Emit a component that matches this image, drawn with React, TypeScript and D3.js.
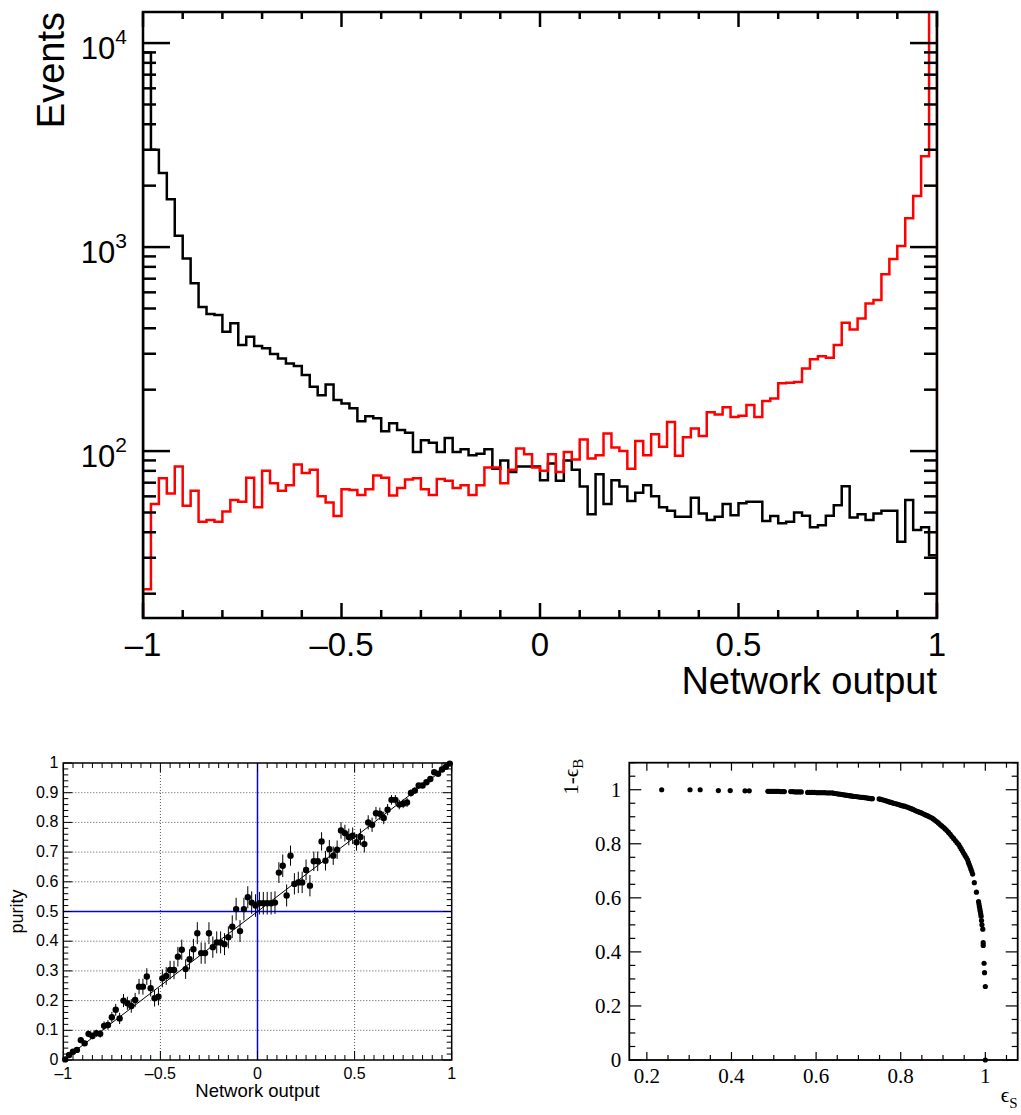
import React from 'react';
import * as d3 from 'd3';

// ---------- Top histogram (100 bins on [-1,1]) ----------
const bgCounts = [
  9000, 3000, 2310, 1714, 1135, 880, 664, 509, 470, 464,
  385, 423, 331, 363, 327, 319, 299, 284, 269, 261,
  236, 207, 188, 212, 178, 171, 162, 140, 148, 145,
  125, 137, 127, 123, 99, 113, 110, 99, 116, 99,
  102, 95.5, 97, 102, 82, 90, 79, 84, 84, 84,
  72, 87, 71.5, 90, 81, 67, 49, 77, 55, 72,
  67, 57, 62.5, 68, 60, 53, 51, 47.6, 47.6, 59,
  49.5, 46, 47.6, 55, 48.5, 55.5, 56.5, 56.5, 45.4, 48,
  44.3, 45, 50, 48.2, 42.3, 43.3, 48.2, 54.3, 67.3, 47.3,
  49, 46, 49.5, 51, 51, 35.9, 57.5, 41, 42.3, 30.9,
];
const sigCounts = [
  21, 55, 73.5, 62, 84, 54, 64, 45, 46, 45,
  50.5, 57.5, 56.5, 74, 53, 80, 69.5, 64, 68, 86,
  78, 81, 60, 56, 48, 65, 64.5, 61, 65, 76,
  74, 60.5, 66, 72.6, 73.5, 65, 61, 73, 71.5, 66,
  68, 61, 68, 83, 83, 69.5, 81, 103, 96.6, 83,
  80, 96.6, 79, 99, 91, 114, 92, 95.5, 122, 104,
  100, 82, 112, 95.5, 121, 105, 139, 94.8, 117, 129,
  118.5, 155, 151, 164, 147, 149, 168, 147, 176, 181,
  215, 216, 218, 254, 282, 292, 287, 331, 426, 395,
  447, 529, 550, 735, 875, 1012, 1383, 1778, 2790, 30000,
];
const topXTickValues = [-1, -0.5, 0, 0.5, 1];
const topXTickLabels = ['\u20131', '\u20130.5', '0', '0.5', '1'];
const topYMajors = [100, 1000, 10000];
const topYMajorExp = ['2', '3', '4'];

// ---------- Purity (100 points) ----------
const purityValues = [
  0.002, 0.017, 0.028, 0.034, 0.067, 0.056, 0.088, 0.081, 0.09, 0.088,
  0.115, 0.118, 0.144, 0.169, 0.14, 0.2, 0.191, 0.182, 0.202, 0.247,
  0.247, 0.281, 0.242, 0.208, 0.213, 0.275, 0.283, 0.303, 0.303, 0.348,
  0.371, 0.306, 0.339, 0.373, 0.427, 0.36, 0.36, 0.427, 0.38, 0.396,
  0.396, 0.39, 0.413, 0.449, 0.508, 0.434, 0.508, 0.548, 0.53, 0.52,
  0.528, 0.528, 0.528, 0.528, 0.53, 0.631, 0.654, 0.554, 0.688, 0.593,
  0.598, 0.598, 0.64, 0.587, 0.669, 0.669, 0.736, 0.671, 0.71, 0.688,
  0.708, 0.773, 0.764, 0.751, 0.755, 0.733, 0.751, 0.727, 0.8, 0.792,
  0.831, 0.829, 0.815, 0.843, 0.876, 0.876, 0.86, 0.863, 0.867, 0.899,
  0.907, 0.924, 0.924, 0.935, 0.946, 0.969, 0.964, 0.978, 0.987, 0.998,
];
const purityErrors = [
  0.002, 0.004, 0.005, 0.006, 0.009, 0.009, 0.011, 0.011, 0.012, 0.013,
  0.015, 0.016, 0.018, 0.02, 0.019, 0.022, 0.022, 0.023, 0.024, 0.026,
  0.027, 0.028, 0.028, 0.028, 0.029, 0.03, 0.03, 0.031, 0.031, 0.033,
  0.034, 0.033, 0.034, 0.035, 0.037, 0.036, 0.036, 0.037, 0.036, 0.037,
  0.037, 0.037, 0.037, 0.038, 0.038, 0.037, 0.038, 0.037, 0.038, 0.038,
  0.038, 0.038, 0.038, 0.038, 0.038, 0.035, 0.038, 0.037, 0.034, 0.036,
  0.036, 0.036, 0.035, 0.036, 0.033, 0.033, 0.031, 0.033, 0.031, 0.031,
  0.031, 0.028, 0.028, 0.028, 0.028, 0.028, 0.028, 0.028, 0.024, 0.024,
  0.021, 0.021, 0.021, 0.019, 0.016, 0.016, 0.016, 0.015, 0.015, 0.012,
  0.011, 0.009, 0.009, 0.008, 0.007, 0.005, 0.005, 0.004, 0.003, 0.002,
];
const purityYTicks = [0, 0.1, 0.2, 0.3, 0.4, 0.5, 0.6, 0.7, 0.8, 0.9, 1];
const purityXTicks = [-1, -0.5, 0, 0.5, 1];
const purityXLabels = ['\u20131', '\u20130.5', '0', '0.5', '1'];

// ---------- ROC (signal efficiency vs background rejection) ----------
const rocEffS = [
  0.235, 0.302, 0.326, 0.369, 0.397, 0.432, 0.442,
  0.486, 0.49, 0.494, 0.498, 0.502, 0.506, 0.511, 0.516, 0.521, 0.525,
  0.54, 0.545, 0.55, 0.555, 0.56, 0.565,
  0.58, 0.585, 0.59, 0.596, 0.602, 0.608, 0.614, 0.62, 0.626, 0.632,
  0.638, 0.642, 0.646, 0.65, 0.654, 0.658, 0.662, 0.666, 0.67, 0.674, 0.678, 0.682, 0.686,
  0.69, 0.694, 0.698, 0.702, 0.706, 0.71, 0.714, 0.718, 0.722, 0.726, 0.73, 0.733,
  0.749, 0.753, 0.757, 0.761, 0.765, 0.769, 0.773, 0.777, 0.781, 0.785, 0.789, 0.793,
  0.797, 0.801, 0.805, 0.809, 0.813, 0.817, 0.821, 0.825, 0.829, 0.833, 0.837, 0.841,
  0.845, 0.849, 0.853, 0.857, 0.861, 0.865, 0.869, 0.873, 0.877, 0.881, 0.885, 0.889,
  0.893, 0.897, 0.901, 0.905, 0.909, 0.913, 0.917, 0.921, 0.925, 0.929, 0.933, 0.937,
  0.94, 0.943, 0.946, 0.949, 0.952, 0.955, 0.958, 0.96, 0.962, 0.964, 0.966, 0.968, 0.97,
  0.974, 0.979, 0.984, 0.985, 0.986, 0.987, 0.988, 0.989, 0.99, 0.991, 0.992, 0.994,
  0.995, 0.995, 0.997, 0.998, 1.0, 1.0,
];
const rocRejB = [
  1.0, 1.0, 1.0, 0.997, 0.997, 0.996, 0.996,
  0.994, 0.994, 0.994, 0.994, 0.994, 0.994, 0.994, 0.993, 0.993, 0.993,
  0.993, 0.993, 0.992, 0.992, 0.992, 0.992,
  0.99, 0.99, 0.99, 0.99, 0.989, 0.989, 0.989, 0.989, 0.988, 0.988,
  0.988, 0.987, 0.986, 0.985, 0.984, 0.983, 0.982, 0.981, 0.98, 0.979, 0.978, 0.977, 0.976,
  0.975, 0.975, 0.974, 0.973, 0.972, 0.972, 0.971, 0.97, 0.969, 0.968, 0.967, 0.967,
  0.966, 0.964, 0.963, 0.961, 0.959, 0.957, 0.955, 0.953, 0.951, 0.949, 0.948, 0.946,
  0.944, 0.942, 0.94, 0.939, 0.937, 0.935, 0.932, 0.93, 0.927, 0.924, 0.921, 0.919,
  0.916, 0.914, 0.911, 0.908, 0.905, 0.902, 0.899, 0.896, 0.892, 0.887, 0.882, 0.877,
  0.871, 0.866, 0.861, 0.855, 0.849, 0.842, 0.835, 0.827, 0.82, 0.812, 0.804, 0.797,
  0.789, 0.781, 0.773, 0.765, 0.757, 0.749, 0.741, 0.731, 0.723, 0.715, 0.706, 0.697, 0.688,
  0.656, 0.621, 0.586, 0.577, 0.568, 0.559, 0.55, 0.541, 0.532, 0.516, 0.5, 0.484,
  0.434, 0.424, 0.358, 0.323, 0.272, 0.0,
];
const rocXTicks = [0.2, 0.4, 0.6, 0.8, 1];
const rocYTicks = [0, 0.2, 0.4, 0.6, 0.8, 1];

const SANS = 'Liberation Sans, Arial, Helvetica, sans-serif';
const SERIF = 'Liberation Serif, Times New Roman, serif';

function range(a: number, b: number, step: number) {
  const out: number[] = [];
  for (let v = a; v <= b + 1e-9; v += step) out.push(Math.round(v * 1e6) / 1e6);
  return out;
}

function TopHist() {
  const L = 143, R = 937, T = 12, B = 618;
  const x = d3.scaleLinear().domain([-1, 1]).range([L, R]);
  const y = d3.scaleLog().domain([15.2, 14200]).range([B, T]);
  const nb = bgCounts.length;
  const bw = 2 / nb;
  const stepPath = (vals: number[]) => {
    let d = `M${x(-1)},${B}`;
    vals.forEach((v, i) => {
      const yy = Math.max(T - 5, Math.min(B, y(v)));
      d += `V${yy}H${x(-1 + bw * (i + 1))}`;
    });
    d += `V${B}`;
    return d;
  };
  const minorX = range(-1, 1, 0.1).filter((v) => !topXTickValues.some((t) => Math.abs(t - v) < 1e-6));
  const minorY: number[] = [];
  [10, 100, 1000, 10000].forEach((dec) => {
    for (let m = 2; m <= 9; m++) {
      const v = m * dec;
      if (v > 15.2 && v < 14200) minorY.push(v);
    }
  });
  const sw = 2.5;
  return (
    <g>
      <defs>
        <clipPath id="topclip">
          <rect x={L} y={T} width={R - L} height={B - T} />
        </clipPath>
      </defs>
      <g clipPath="url(#topclip)">
        <path d={stepPath(bgCounts)} fill="none" stroke="#000" strokeWidth={sw} />
        <path d={stepPath(sigCounts)} fill="none" stroke="#ff0000" strokeWidth={sw} />
      </g>
      {topXTickValues.map((v) => (
        <g key={'mx' + v}>
          <line x1={x(v)} x2={x(v)} y1={B} y2={B - 15} stroke="#000" strokeWidth={sw} />
          <line x1={x(v)} x2={x(v)} y1={T} y2={T + 15} stroke="#000" strokeWidth={sw} />
        </g>
      ))}
      {minorX.map((v) => (
        <g key={'nx' + v}>
          <line x1={x(v)} x2={x(v)} y1={B} y2={B - 8} stroke="#000" strokeWidth={sw} />
          <line x1={x(v)} x2={x(v)} y1={T} y2={T + 7} stroke="#000" strokeWidth={sw} />
        </g>
      ))}
      {topYMajors.map((v) => (
        <g key={'my' + v}>
          <line x1={L} x2={L + 27} y1={y(v)} y2={y(v)} stroke="#000" strokeWidth={sw} />
          <line x1={R} x2={R - 27} y1={y(v)} y2={y(v)} stroke="#000" strokeWidth={sw} />
        </g>
      ))}
      {minorY.map((v) => (
        <g key={'ny' + v}>
          <line x1={L} x2={L + 13} y1={y(v)} y2={y(v)} stroke="#000" strokeWidth={sw} />
          <line x1={R} x2={R - 13} y1={y(v)} y2={y(v)} stroke="#000" strokeWidth={sw} />
        </g>
      ))}
      <rect x={L} y={T} width={R - L} height={B - T} fill="none" stroke="#000" strokeWidth={sw} />
      {topYMajors.map((v, i) => (
        <text key={'ly' + v} x={127} y={y(v) + 16} textAnchor="end" fontFamily={SANS} fontSize={31} fill="#000">
          <tspan>10</tspan>
          <tspan dy={-15} fontSize={21}>{topYMajorExp[i]}</tspan>
        </text>
      ))}
      {topXTickValues.map((v, i) => (
        <text key={'lx' + v} x={x(v)} y={656} textAnchor="middle" fontFamily={SANS} fontSize={33} fill="#000">
          {topXTickLabels[i]}
        </text>
      ))}
      <text x={R} y={694} textAnchor="end" fontFamily={SANS} fontSize={38} fill="#000">Network output</text>
      <text transform={`translate(64,${T}) rotate(-90)`} textAnchor="end" fontFamily={SANS} fontSize={38} fill="#000">Events</text>
    </g>
  );
}

function PurityPlot() {
  const L = 63.3, R = 451.7, T = 763, B = 1060;
  const x = d3.scaleLinear().domain([-1, 1]).range([L, R]);
  const y = d3.scaleLinear().domain([0, 1]).range([B, T]);
  const n = purityValues.length;
  const bw = 2 / n;
  const minorY = range(0, 1, 0.02).filter((v) => !purityYTicks.some((t) => Math.abs(t - v) < 1e-6));
  const minorX = range(-1, 1, 0.05).filter((v) => !purityXTicks.some((t) => Math.abs(t - v) < 1e-6));
  const gridY = purityYTicks.filter((v) => v > 0 && v < 1);
  const gridX = [-0.5, 0, 0.5];
  return (
    <g>
      {gridY.map((v) => (
        <line key={'gy' + v} x1={L} x2={R} y1={y(v)} y2={y(v)} stroke="#555" strokeWidth={1} strokeDasharray="1,2" />
      ))}
      {gridX.map((v) => (
        <line key={'gx' + v} x1={x(v)} x2={x(v)} y1={T} y2={B} stroke="#555" strokeWidth={1} strokeDasharray="1,2" />
      ))}
      <line x1={x(0)} x2={x(0)} y1={T} y2={B} stroke="#0000ff" strokeWidth={1.5} />
      <line x1={L} x2={R} y1={y(0.5)} y2={y(0.5)} stroke="#0000ff" strokeWidth={1.5} />
      <line x1={x(-1)} y1={y(0)} x2={x(1)} y2={y(1)} stroke="#000" strokeWidth={1} />
      {purityValues.map((v, i) => {
        const cx = x(-1 + bw * (i + 0.5));
        const e = purityErrors[i];
        return (
          <g key={'p' + i}>
            <line x1={cx} x2={cx} y1={y(Math.min(1, v + e))} y2={y(Math.max(0, v - e))} stroke="#000" strokeWidth={1} />
            <circle cx={cx} cy={y(v)} r={3.2} fill="#000" />
          </g>
        );
      })}
      {purityYTicks.map((v) => (
        <g key={'ty' + v}>
          <line x1={L} x2={L + 9} y1={y(v)} y2={y(v)} stroke="#000" strokeWidth={1} />
          <line x1={R} x2={R - 9} y1={y(v)} y2={y(v)} stroke="#000" strokeWidth={1} />
        </g>
      ))}
      {minorY.map((v) => (
        <g key={'tny' + v}>
          <line x1={L} x2={L + 5} y1={y(v)} y2={y(v)} stroke="#000" strokeWidth={1} />
          <line x1={R} x2={R - 5} y1={y(v)} y2={y(v)} stroke="#000" strokeWidth={1} />
        </g>
      ))}
      {purityXTicks.map((v) => (
        <g key={'tx' + v}>
          <line x1={x(v)} x2={x(v)} y1={B} y2={B - 9} stroke="#000" strokeWidth={1} />
          <line x1={x(v)} x2={x(v)} y1={T} y2={T + 9} stroke="#000" strokeWidth={1} />
        </g>
      ))}
      {minorX.map((v) => (
        <g key={'tnx' + v}>
          <line x1={x(v)} x2={x(v)} y1={B} y2={B - 5} stroke="#000" strokeWidth={1} />
          <line x1={x(v)} x2={x(v)} y1={T} y2={T + 5} stroke="#000" strokeWidth={1} />
        </g>
      ))}
      <rect x={L} y={T} width={R - L} height={B - T} fill="none" stroke="#000" strokeWidth={1.5} />
      {purityYTicks.map((v) => (
        <text key={'ly' + v} x={L - 5} y={y(v) + 5} textAnchor="end" fontFamily={SANS} fontSize={16} fill="#000">
          {String(v)}
        </text>
      ))}
      {purityXTicks.map((v, i) => (
        <text key={'lx' + v} x={x(v)} y={1079} textAnchor="middle" fontFamily={SANS} fontSize={16} fill="#000">
          {purityXLabels[i]}
        </text>
      ))}
      <text x={x(0)} y={1097} textAnchor="middle" fontFamily={SANS} fontSize={18.5} fill="#000">Network output</text>
      <text transform={`translate(23,${(T + B) / 2}) rotate(-90)`} textAnchor="middle" fontFamily={SANS} fontSize={18} fill="#000">purity</text>
    </g>
  );
}

function RocPlot() {
  const L = 629.3, R = 1017.7, T = 762.7, B = 1060;
  const x = d3.scaleLinear().domain([0.1585, 1.0765]).range([L, R]);
  const y = d3.scaleLinear().domain([0, 1.1]).range([B, T]);
  const minorX = range(0.2, 1.05, 0.05).filter((v) => !rocXTicks.some((t) => Math.abs(t - v) < 1e-6));
  const minorY = range(0, 1.1, 0.05).filter((v) => !rocYTicks.some((t) => Math.abs(t - v) < 1e-6));
  return (
    <g>
      {rocEffS.map((v, i) => (
        <circle key={'r' + i} cx={x(v)} cy={y(rocRejB[i])} r={2.6} fill="#000" />
      ))}
      {rocYTicks.map((v) => (
        <g key={'ty' + v}>
          <line x1={L} x2={L + 12} y1={y(v)} y2={y(v)} stroke="#000" strokeWidth={1.2} />
          <line x1={R} x2={R - 12} y1={y(v)} y2={y(v)} stroke="#000" strokeWidth={1.2} />
        </g>
      ))}
      {minorY.map((v) => (
        <g key={'tny' + v}>
          <line x1={L} x2={L + 6} y1={y(v)} y2={y(v)} stroke="#000" strokeWidth={1.2} />
          <line x1={R} x2={R - 6} y1={y(v)} y2={y(v)} stroke="#000" strokeWidth={1.2} />
        </g>
      ))}
      {rocXTicks.map((v) => (
        <g key={'tx' + v}>
          <line x1={x(v)} x2={x(v)} y1={B} y2={B - 8} stroke="#000" strokeWidth={1.2} />
          <line x1={x(v)} x2={x(v)} y1={T} y2={T + 8} stroke="#000" strokeWidth={1.2} />
        </g>
      ))}
      {minorX.map((v) => (
        <g key={'tnx' + v}>
          <line x1={x(v)} x2={x(v)} y1={B} y2={B - 5} stroke="#000" strokeWidth={1.2} />
          <line x1={x(v)} x2={x(v)} y1={T} y2={T + 5} stroke="#000" strokeWidth={1.2} />
        </g>
      ))}
      <rect x={L} y={T} width={R - L} height={B - T} fill="none" stroke="#000" strokeWidth={1.8} />
      {rocYTicks.map((v) => (
        <text key={'ly' + v} x={L - 8} y={y(v) + 7} textAnchor="end" fontFamily={SERIF} fontSize={21} fill="#000">
          {String(v)}
        </text>
      ))}
      {rocXTicks.map((v) => (
        <text key={'lx' + v} x={x(v)} y={1083} textAnchor="middle" fontFamily={SERIF} fontSize={21} fill="#000">
          {String(v)}
        </text>
      ))}
      <g transform={`translate(578,${T - 4}) rotate(-90)`}>
        <text x={0} y={0} textAnchor="end" fontFamily={SERIF} fontSize={21} fill="#000">
          <tspan>1-{'\u03F5'}</tspan>
          <tspan dy={5} fontSize={15}>B</tspan>
        </text>
      </g>
      <text x={R} y={1102} textAnchor="end" fontFamily={SERIF} fontSize={21} fill="#000">
        <tspan>{'\u03F5'}</tspan>
        <tspan dy={6} fontSize={15}>S</tspan>
      </text>
    </g>
  );
}

export default function App() {
  return (
    <svg
      width={1021}
      height={1115}
      viewBox="0 0 1021 1115"
      style={{ position: 'absolute', left: 0, top: 0, background: '#fff' }}
    >
      <rect x={0} y={0} width={1021} height={1115} fill="#fff" />
      <TopHist />
      <PurityPlot />
      <RocPlot />
    </svg>
  );
}
